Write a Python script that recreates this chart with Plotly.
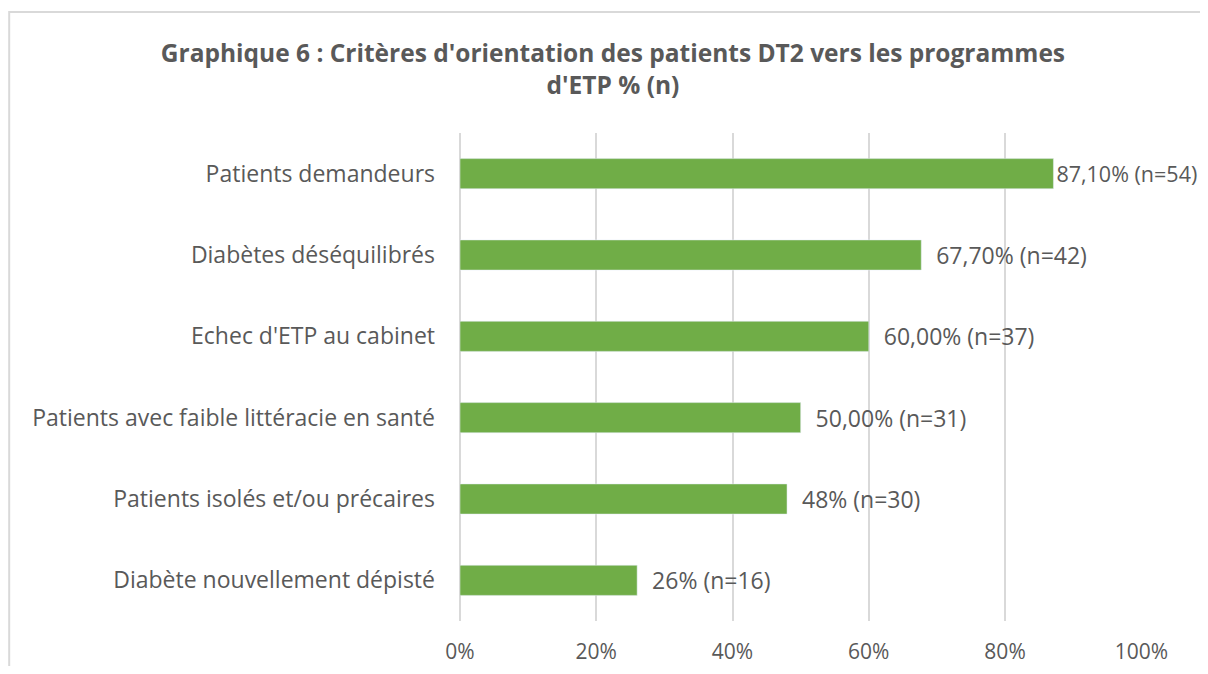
import pandas as pd
import plotly.express as px

""" ----------------DADOS---------------- """

criteres = [
    'Patients demandeurs',
    'Diabètes déséquilibrés',
    "Echec d'ETP au cabinet",
    'Patients avec faible littéracie en santé',
    'Patients isolés et/ou précaires',
    'Diabète nouvellement dépisté',
]
pourcentages = [87.1, 67.7, 60.0, 50.0, 48.0, 26.0]
effectifs = [54, 42, 37, 31, 30, 16]
etiquettes_pct = ['87,10%', '67,70%', '60,00%', '50,00%', '48%', '26%']

df = pd.DataFrame({'critere': criteres, 'pct': pourcentages, 'n': effectifs})
# o primeiro rótulo fica colado na barra, os outros um pouco afastados
df['texte'] = [('' if i == 0 else '\u00a0\u00a0') + f'{p} (n={n})'
               for i, (p, n) in enumerate(zip(etiquettes_pct, effectifs))]

COR_TEXTO = '#595959'
COR_GRADE = '#D9D9D9'


# gráfico 6 - critérios de orientação
def grafico_6():

    fig = px.bar(
        df,
        x='pct',
        y='critere',
        text='texte',
        orientation='h',
        title="Graphique 6 : Critères d'orientation des patients DT2 vers les programmes<br>d'ETP % (n)",
        color_discrete_sequence=['#70AD47'],
    )
    #invertendo para mostrar do maior para o menor
    fig = fig.update_yaxes(categoryorder='total ascending')

    # rótulo da maior barra um pouco menor para caber na borda
    fig.update_traces(textposition='outside', cliponaxis=False, constraintext='none',
                      textfont=dict(size=[21.5] + [23] * 5, color=COR_TEXTO))
    fig.update_xaxes(range=[0, 100.1], dtick=20, ticksuffix='%', showgrid=True, gridcolor=COR_GRADE,
                     gridwidth=1.5, zeroline=True, zerolinecolor=COR_GRADE, zerolinewidth=1.5,
                     title=None, ticks='', ticklabelstandoff=16,
                     tickfont=dict(size=21, color=COR_TEXTO))
    fig.update_yaxes(title=None, ticks='', ticklabelstandoff=24, tickfont=dict(size=23, color=COR_TEXTO))
    fig.update_layout(
        width=1192,
        height=658,
        font=dict(family='Open Sans', color=COR_TEXTO),
        title=dict(x=0.5075, xanchor='center', y=0.918, yanchor='top',
                   font=dict(size=24.5, color=COR_TEXTO, family='Open Sans', weight='bold')),
        plot_bgcolor='white',
        paper_bgcolor='white',
        bargap=0.63,
        margin=dict(l=452, r=58, t=125, b=45, autoexpand=False),
        showlegend=False,
    )
    # moldura do gráfico
    fig.add_shape(type='rect', xref='paper', yref='paper', x0=-0.661, x1=1.2, y0=-0.3, y1=1.248,
                  line=dict(color=COR_GRADE, width=2), fillcolor='rgba(0,0,0,0)', layer='below')
    return fig


fig = grafico_6()
fig.write_html('out.html')
